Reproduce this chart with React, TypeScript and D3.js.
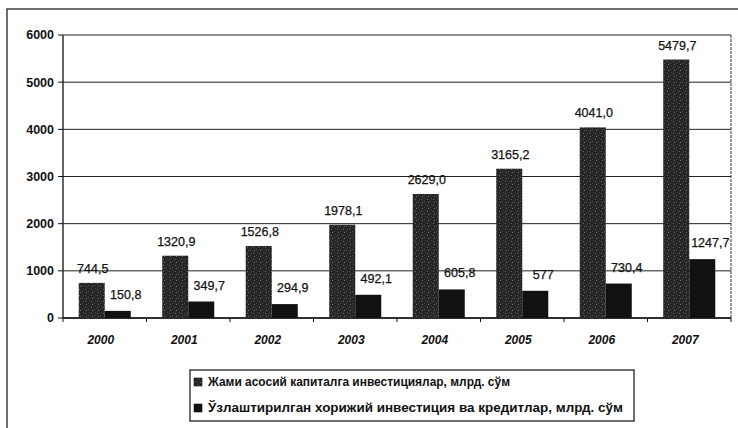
import React from 'react';
import * as d3 from 'd3';

const years = ['2000', '2001', '2002', '2003', '2004', '2005', '2006', '2007'];
const totalInvest = [744.5, 1320.9, 1526.8, 1978.1, 2629.0, 3165.2, 4041.0, 5479.7];
const totalLabels = ['744,5', '1320,9', '1526,8', '1978,1', '2629,0', '3165,2', '4041,0', '5479,7'];
const foreignInvest = [150.8, 349.7, 294.9, 492.1, 605.8, 577, 730.4, 1247.7];
const foreignLabels = ['150,8', '349,7', '294,9', '492,1', '605,8', '577', '730,4', '1247,7'];
const yTicks = [0, 1000, 2000, 3000, 4000, 5000, 6000];
const seriesNames = [
  'Жами асосий капиталга инвестициялар, млрд. сўм',
  'Ўзлаштирилган хорижий инвестиция ва кредитлар, млрд. сўм',
];

const W = 738;
const H = 428;
const FONT = '"Liberation Sans", Arial, sans-serif';

const App: React.FC = () => {
  const plot = { left: 63, right: 731, top: 35, bottom: 318 };

  const x = d3.scaleBand<string>()
    .domain(years)
    .range([plot.left, plot.right])
    .paddingInner(0.377)
    .paddingOuter(0.1885);

  const inner = d3.scaleBand<string>()
    .domain(['a', 'b'])
    .range([0, x.bandwidth()]);

  const y = d3.scaleLinear().domain([0, 6000]).range([plot.bottom, plot.top]);

  const step = x.step();
  const boundaries = d3.range(years.length + 1).map(i => plot.left + i * step);
  // legend line widths as measured on the scan
  const legendLengths = [302, 415];

  return (
    <svg width={W} height={H} style={{ position: 'absolute', left: 0, top: 0, background: '#fff' }}
      fontFamily={FONT}>
      <defs>
        <pattern id="speckle" width="6" height="6" patternUnits="userSpaceOnUse">
          <rect width="6" height="6" fill="#262626" />
          <rect x="1" y="1" width="1" height="1" fill="#666" />
          <rect x="4" y="3" width="1" height="1" fill="#505050" />
          <rect x="2" y="4" width="1" height="1" fill="#707070" />
          <rect x="5" y="0" width="1" height="1" fill="#444" />
        </pattern>
      </defs>

      {/* outer frame */}
      <rect x={7} y={9} width={W} height={H} fill="none" stroke="#222" strokeWidth={1.3} />

      {/* grid lines */}
      {yTicks.map(t => (
        <line key={t} x1={plot.left} x2={plot.right} y1={y(t)} y2={y(t)} stroke="#222" strokeWidth={1} />
      ))}
      <line x1={plot.right} x2={plot.right} y1={plot.top} y2={plot.bottom}
        stroke="#333" strokeWidth={1} strokeDasharray="3,1" />

      {/* y axis */}
      <line x1={plot.left} x2={plot.left} y1={plot.top} y2={plot.bottom} stroke="#111" strokeWidth={1.3} />
      {yTicks.map(t => (
        <g key={t}>
          <line x1={plot.left - 5} x2={plot.left} y1={y(t)} y2={y(t)} stroke="#111" />
          <text x={54} y={y(t)} dy="0.35em" textAnchor="end" fontSize={12.5} fontWeight="bold" fill="#111">{t}</text>
        </g>
      ))}

      {/* x axis */}
      <line x1={plot.left} x2={plot.right} y1={plot.bottom} y2={plot.bottom} stroke="#111" strokeWidth={1.5} />
      {boundaries.map((b, i) => (
        <line key={i} x1={b} x2={b} y1={plot.bottom} y2={plot.bottom + 4} stroke="#111" />
      ))}

      {/* bars */}
      {years.map((yr, i) => {
        const x0 = x(yr) ?? 0;
        const bw = inner.bandwidth();
        const xa = x0 + (inner('a') ?? 0);
        const xb = x0 + (inner('b') ?? 0);
        return (
          <g key={yr}>
            <rect x={xa} y={y(totalInvest[i])} width={bw} height={plot.bottom - y(totalInvest[i])} fill="url(#speckle)" />
            <rect x={xb} y={y(foreignInvest[i])} width={bw} height={plot.bottom - y(foreignInvest[i])} fill="#111" />
            <text x={xa + bw / 2 + 1} y={y(totalInvest[i]) - 10} textAnchor="middle" fontSize={12.5} fill="#111"
              stroke="#111" strokeWidth={0.25}>
              {totalLabels[i]}
            </text>
            <text x={xb + bw / 2 + 8} y={y(foreignInvest[i]) - 12} textAnchor="middle" fontSize={12.5} fill="#111"
              stroke="#111" strokeWidth={0.25}>
              {foreignLabels[i]}
            </text>
            <text x={x0 + x.bandwidth() / 2 - 4} y={plot.bottom + 26} textAnchor="middle" fontSize={12}
              fontWeight="bold" fontStyle="italic" fill="#111">{yr}</text>
          </g>
        );
      })}

      {/* legend */}
      <rect x={190} y={370} width={444} height={51} fill="#fff" stroke="#222" strokeWidth={1.3} />
      {seriesNames.map((name, i) => (
        <g key={name} transform={`translate(0, ${i * 26})`}>
          <rect x={194} y={378} width={8} height={8} fill={i === 0 ? 'url(#speckle)' : '#111'} stroke="#111" strokeWidth={0.6} />
          <text x={208} y={386} fontSize={12} fontWeight="bold" fill="#111"
            textLength={legendLengths[i]} lengthAdjust="spacingAndGlyphs">{name}</text>
        </g>
      ))}
    </svg>
  );
};

export default App;
